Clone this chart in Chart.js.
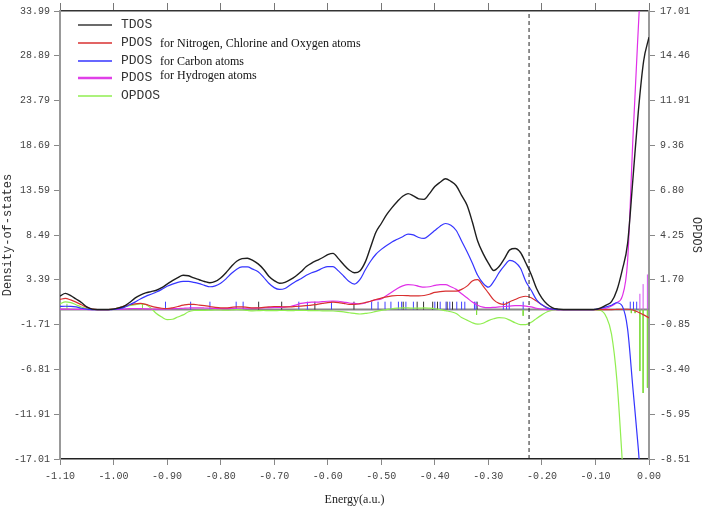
<!DOCTYPE html>
<html><head><meta charset="utf-8">
<script src="https://cdn.jsdelivr.net/npm/chart.js@4.4.1/dist/chart.umd.min.js"></script>
<style>html,body{margin:0;padding:0;background:#fff;}#wrap{width:703px;height:509px;}</style>
</head><body><div id="wrap"><canvas id="c" width="703" height="509"></canvas></div>
<script>
// Energy grid (a.u.)
const energy = [
-1.10,-1.09,-1.08,-1.07,-1.06,-1.05,-1.04,-1.03,-1.02,-1.01,
-1.00,-0.99,-0.98,-0.97,-0.96,-0.95,-0.94,-0.93,-0.92,-0.91,
-0.90,-0.89,-0.88,-0.87,-0.86,-0.85,-0.84,-0.83,-0.82,-0.81,
-0.80,-0.79,-0.78,-0.77,-0.76,-0.75,-0.74,-0.73,-0.72,-0.71,
-0.70,-0.69,-0.68,-0.67,-0.66,-0.65,-0.64,-0.63,-0.62,-0.61,
-0.60,-0.59,-0.58,-0.57,-0.56,-0.55,-0.54,-0.53,-0.52,-0.51,
-0.50,-0.49,-0.48,-0.47,-0.46,-0.45,-0.44,-0.43,-0.42,-0.41,
-0.40,-0.39,-0.38,-0.37,-0.36,-0.35,-0.34,-0.33,-0.32,-0.31,
-0.30,-0.29,-0.28,-0.27,-0.26,-0.25,-0.24,-0.23,-0.22,-0.21,
-0.20,-0.19,-0.18,-0.17,-0.16,-0.15,-0.14,-0.13,-0.12,-0.11,
-0.10,-0.09,-0.08,-0.07,-0.06,-0.05,-0.04,-0.03,-0.02,-0.01,
0.00];

const tdos = [
1.54,1.84,1.6,1.2,0.8,0.3,0.05,0,0,0,
0.05,0.2,0.4,0.8,1.3,1.65,1.9,2.05,2.2,2.5,
2.9,3.3,3.65,3.9,3.85,3.6,3.4,3.2,3.05,3.2,
3.6,4.2,4.9,5.5,5.8,5.85,5.6,5.2,4.6,3.8,
3.3,3.0,3.1,3.4,3.8,4.3,4.9,5.3,5.6,5.9,
6.25,6.4,5.8,5.1,4.5,4.2,4.4,5.4,7.1,8.8,
9.8,10.8,11.6,12.3,12.9,13.2,12.95,12.6,12.55,13.2,
14.0,14.5,14.9,14.6,14.1,13.0,11.9,10.0,7.8,6.4,
5.3,4.45,4.9,5.8,6.8,6.95,6.5,5.3,4.0,2.4,
1.3,0.6,0.2,0.05,0,0,0,0,0,0,
0.02,0.2,0.5,0.9,2.2,4.5,7.5,14.9,22.5,28.3,
31.0];

const pdosNClO = [
1.16,1.27,1.1,0.85,0.55,0.25,0.05,0,0,0,
0.05,0.2,0.4,0.55,0.65,0.7,0.6,0.4,0.25,0.15,
0.12,0.2,0.35,0.5,0.6,0.6,0.5,0.45,0.35,0.25,
0.2,0.2,0.25,0.3,0.3,0.25,0.2,0.2,0.25,0.3,
0.35,0.35,0.3,0.3,0.35,0.4,0.45,0.5,0.6,0.7,
0.8,0.85,0.8,0.7,0.6,0.6,0.67,0.8,0.95,1.15,
1.3,1.45,1.55,1.6,1.6,1.58,1.55,1.55,1.6,1.75,
1.95,2.05,2.1,2.1,2.1,2.3,2.67,3.25,3.4,2.7,
1.9,1.1,0.7,0.6,0.9,1.15,1.4,1.52,1.35,0.97,
0.55,0.2,0.05,0,0,0,0,0,0,0,
0,0,0,0,0.02,0.04,0.04,-0.05,-0.3,-0.6,
-0.95];

const pdosC = [
0.37,0.38,0.37,0.3,0.15,0.05,0,0,0,0,
0.02,0.1,0.25,0.55,0.85,1.2,1.5,1.75,2.0,2.3,
2.65,2.9,3.1,3.2,3.2,3.1,2.95,2.75,2.6,2.7,
3.0,3.5,4.1,4.6,4.85,4.85,4.6,4.3,3.7,3.0,
2.5,2.3,2.4,2.8,3.2,3.5,3.9,4.2,4.4,4.7,
4.9,4.9,4.4,3.8,3.2,2.9,3.4,4.5,5.5,6.3,
6.85,7.3,7.7,8.0,8.3,8.6,8.5,8.2,8.1,8.5,
9.0,9.5,9.8,9.6,9.0,7.8,6.6,5.3,3.9,3.0,
2.55,3.2,4.2,5.0,5.6,5.4,4.7,3.2,2.2,1.1,
0.55,0.2,0.05,0,0,0,0,0,0,0,
0.02,0.15,0.3,0.5,0.78,0.4,-2.2,-9.0,-15.8,-24,
-32];

const pdosH = [
0.05,0.05,0.04,0.03,0.02,0.01,0,0,0,0,
0.01,0.03,0.06,0.1,0.12,0.1,0.08,0.06,0.05,0.06,
0.08,0.1,0.12,0.15,0.18,0.2,0.2,0.18,0.15,0.12,
0.1,0.1,0.12,0.15,0.15,0.15,0.15,0.18,0.2,0.22,
0.25,0.25,0.28,0.35,0.5,0.7,0.8,0.85,0.85,0.9,
0.95,0.97,0.95,0.85,0.75,0.7,0.65,0.75,0.95,1.1,
1.2,1.6,2.0,2.4,2.7,2.85,2.8,2.65,2.55,2.6,
2.75,2.85,2.85,2.6,2.3,1.8,1.35,0.85,0.5,0.28,
0.22,0.25,0.3,0.35,0.4,0.45,0.45,0.4,0.3,0.15,
0.05,0,0,0,0,0,0,0,0,0,
0,0.05,0.15,0.4,0.8,1.5,5.5,19.5,32,44,
55];

// OPDOS (right axis)
const opdos = [
0.33,0.44,0.4,0.28,0.15,0.06,0.01,0,0,0,
0.03,0.1,0.18,0.22,0.28,0.33,0.3,0.08,-0.22,-0.42,
-0.57,-0.55,-0.42,-0.3,-0.12,-0.05,-0.04,-0.04,-0.03,-0.02,
-0.02,-0.03,-0.02,0,-0.02,-0.05,-0.07,-0.06,-0.05,-0.06,
-0.06,-0.05,-0.05,-0.06,-0.05,-0.04,-0.05,-0.06,-0.06,-0.07,
-0.07,-0.08,-0.1,-0.13,-0.18,-0.22,-0.25,-0.22,-0.18,-0.1,
-0.04,0,0.05,0.08,0.1,0.1,0.08,0.08,0.1,0.08,
0.05,0,-0.06,-0.12,-0.22,-0.45,-0.6,-0.75,-0.83,-0.78,
-0.63,-0.52,-0.46,-0.48,-0.6,-0.75,-0.85,-0.85,-0.72,-0.5,
-0.3,-0.12,-0.03,0,0,0,0,0,0,0,
-0.01,-0.05,-0.4,-1.4,-4.0,-8.6,-14,-19,-24,-29,
-34];

// Discrete orbital lines (sticks)
const blueStickE = [-0.903,-0.856,-0.820,-0.771,-0.758,-0.654,-0.638,-0.593,-0.518,-0.506,-0.493,-0.482,-0.468,-0.462,-0.454,-0.440,-0.400,-0.390,-0.379,-0.372,-0.359,-0.350,-0.344,-0.326,-0.323,-0.272,-0.266,-0.261,-0.235,-0.035,-0.029,-0.023];
const blueStickH = [0.9,0.9,0.9,0.9,0.9,0.9,0.9,0.9,0.9,0.9,0.9,0.9,0.9,0.9,0.9,0.9,0.9,0.9,0.9,0.9,0.9,0.9,0.9,0.9,0.9,0.9,0.9,0.9,0.9,0.9,0.9,0.9];
const blackStickE = [-0.729,-0.686,-0.624,-0.551,-0.459,-0.433,-0.421,-0.404,-0.395,-0.377,-0.367,-0.321];
const blackStickH = [0.9,0.9,0.9,0.9,0.9,0.9,0.9,0.9,0.9,0.9,0.9,0.9];
const hStickE = [-0.017,-0.011,-0.003];
const hStickH = [1.8,2.9,4.0];
const opStickE = [-1.087,-0.946,-0.322,-0.235,-0.033,-0.026,-0.017,-0.011,-0.003];
const opStickH = [0.33,0.35,-0.3,-0.35,-0.2,-0.2,-3.5,-4.75,-4.45];

const homoEnergy = -0.224;

const xTickValues = [-1.10,-1.00,-0.90,-0.80,-0.70,-0.60,-0.50,-0.40,-0.30,-0.20,-0.10,0.00];
const xTickLabels = ["-1.10","-1.00","-0.90","-0.80","-0.70","-0.60","-0.50","-0.40","-0.30","-0.20","-0.10","0.00"];
const yTickValues = [-17.01,-11.91,-6.81,-1.71,3.39,8.49,13.59,18.69,23.79,28.89,33.99];
const yTickLabels = ["-17.01","-11.91","-6.81","-1.71","3.39","8.49","13.59","18.69","23.79","28.89","33.99"];
const y2TickValues = [-8.51,-5.95,-3.40,-0.85,1.70,4.25,6.80,9.36,11.91,14.46,17.01];
const y2TickLabels = ["-8.51","-5.95","-3.40","-0.85","1.70","4.25","6.80","9.36","11.91","14.46","17.01"];

const seriesNames = ["TDOS","PDOS","PDOS","PDOS","OPDOS"];
const seriesNotes = ["","for Nitrogen, Chlorine and Oxygen atoms","for Carbon atoms","for Hydrogen atoms",""];
const seriesColors = ["#3a3a3a","#d83030","#3535ff","#e040e8","#90ee50"];

function pts(ys){ return energy.map((e,i)=>({x:e,y:ys[i]})); }
function sticks(E,H){ const p=[]; E.forEach((e,i)=>{p.push({x:e,y:0},{x:e,y:H[i]},{x:e,y:null});}); return p; }

const curve = (label,data,color,w,order,axis)=>({label,data,borderColor:color,borderWidth:w,pointRadius:0,cubicInterpolationMode:'monotone',fill:false,order,yAxisID:axis||'y'});
const stick = (label,data,color,order,axis)=>({label,data,borderColor:color,borderWidth:1,pointRadius:0,tension:0,spanGaps:false,fill:false,order,yAxisID:axis||'y'});

const legendPlugin = {
  id:'manualLegend',
  afterDraw(chart){
    const ctx = chart.ctx;
    const ys=[25,43,61,78,96], widths=[1.5,1.3,1.5,2.5,1.3], noteDy=[0,1,1,-2,0];
    ctx.save();
    seriesNames.forEach((n,i)=>{
      ctx.strokeStyle=seriesColors[i]; ctx.lineWidth=widths[i];
      ctx.beginPath(); ctx.moveTo(78,ys[i]); ctx.lineTo(112,ys[i]); ctx.stroke();
      ctx.fillStyle='#333'; ctx.textBaseline='middle'; ctx.textAlign='left';
      ctx.font='13px "Liberation Mono"';
      ctx.fillText(n,121,ys[i]);
      if(seriesNotes[i]){ ctx.font='12px "Liberation Serif"'; ctx.fillStyle='#111'; ctx.fillText(seriesNotes[i],160,ys[i]+noteDy[i]); }
    });
    ctx.restore();
  }
};

const monoTick = {family:'"Liberation Mono"', size:10};

new Chart(document.getElementById('c'),{
  type:'line',
  data:{datasets:[
    {label:'HOMO',data:[{x:homoEnergy,y:-17.01},{x:homoEnergy,y:33.99}],borderColor:'#222',borderWidth:1,borderDash:[4,3],pointRadius:0,order:0,yAxisID:'y'},
    curve('TDOS',pts(tdos),'#1e1e1e',1.4,1),
    curve('PDOS C',pts(pdosC),'#3535ff',1.2,2),
    curve('PDOS N,Cl,O',pts(pdosNClO),'#d83030',1.2,3),
    curve('PDOS H',pts(pdosH),'#e030e8',1.2,4),
    curve('OPDOS',pts(opdos),'#90ee50',1.2,5,'y2'),
    stick('C lines',sticks(blueStickE,blueStickH),'#4040ff',6),
    stick('TDOS lines',sticks(blackStickE,blackStickH),'#333',7),
    stick('H lines',sticks(hStickE,hStickH),'#d050f0',8),
    stick('OPDOS lines',sticks(opStickE,opStickH),'#80dd40',9,'y2'),
    {label:'zero',data:[{x:-1.10,y:0},{x:0,y:0}],borderColor:'#888',borderWidth:2,pointRadius:0,order:10,yAxisID:'y'}
  ]},
  options:{
    responsive:false, animation:false, events:[], devicePixelRatio:1,
    layout:{padding:0},
    plugins:{legend:{display:false},tooltip:{enabled:false}},
    scales:{
      x:{type:'linear',position:'bottom',min:-1.10,max:0,
        afterBuildTicks:s=>{s.ticks=xTickValues.map(v=>({value:v}));},
        afterFit:s=>{s.height=50;},
        grid:{drawOnChartArea:false,drawTicks:true,tickLength:6,color:'#888'},
        border:{color:'#222',width:1.5},
        ticks:{font:monoTick,color:'#444',padding:5,maxRotation:0,autoSkip:false,callback:(v,i)=>xTickLabels[i]},
        title:{display:true,text:'Energy(a.u.)',font:{family:'"Liberation Serif"',size:12},color:'#222',padding:{top:0,bottom:2}}},
      xTop:{type:'linear',position:'top',min:-1.10,max:0,
        afterBuildTicks:s=>{s.ticks=xTickValues.map(v=>({value:v}));},
        afterFit:s=>{s.height=8;},
        grid:{drawOnChartArea:false,drawTicks:true,tickLength:8,color:'#777'},
        border:{color:'#333',width:1.5},
        ticks:{display:false}},
      y:{type:'linear',position:'left',min:-17.01,max:33.99,
        afterBuildTicks:s=>{s.ticks=yTickValues.map(v=>({value:v}));},
        afterFit:s=>{s.width=60;},
        grid:{drawOnChartArea:false,drawTicks:true,tickLength:6,color:'#888'},
        border:{color:'#999',width:2},
        ticks:{font:monoTick,color:'#444',padding:4,autoSkip:false,callback:(v,i)=>yTickLabels[i]},
        title:{display:true,text:'Density-of-states',font:{family:'"Liberation Mono"',size:12},color:'#333',padding:{top:1,bottom:0}}},
      y2:{type:'linear',position:'right',min:-8.51,max:17.01,
        afterBuildTicks:s=>{s.ticks=y2TickValues.map(v=>({value:v}));},
        afterFit:s=>{s.width=54;},
        grid:{drawOnChartArea:false,drawTicks:true,tickLength:6,color:'#888'},
        border:{color:'#999',width:2},
        ticks:{font:monoTick,color:'#444',padding:5,autoSkip:false,callback:(v,i)=>y2TickLabels[i]},
        title:{display:true,text:'OPDOS',font:{family:'"Liberation Mono"',size:12},color:'#333',padding:{top:0,bottom:0}}}
    }
  },
  plugins:[legendPlugin]
});
</script></body></html>
